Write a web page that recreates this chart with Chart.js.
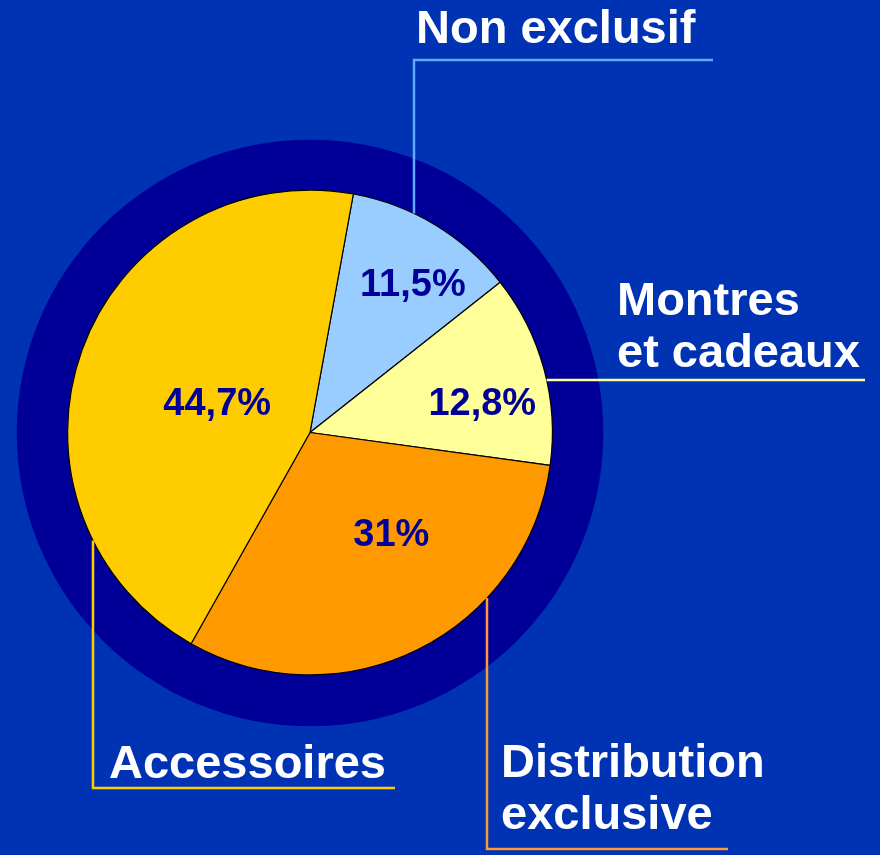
<!DOCTYPE html>
<html lang="fr">
<head>
<meta charset="UTF-8">
<title>Répartition</title>
<script src="https://cdn.jsdelivr.net/npm/chart.js"></script>
<style>
  html, body { margin: 0; padding: 0; background: #0033B3; }
  canvas { display: block; }
</style>
</head>
<body>
<canvas id="pie" width="880" height="855"></canvas>
<script>
// données
const categories = ['Non exclusif', 'Montres et cadeaux', 'Distribution exclusive', 'Accessoires'];
const values = [11.5, 12.8, 31, 44.7];
const valueLabels = ['11,5%', '12,8%', '31%', '44,7%'];
const sliceColors = ['#99CCFF', '#FFFF99', '#FF9900', '#FFCC00'];
const lineColors = ['#5FA8FF', '#FFFF99', '#FF9933', '#FFCC00'];

const FONT = '"Liberation Sans", Arial, sans-serif';

// position des étiquettes dans les parts (fraction du rayon, décalage d'angle en degrés)
const inner = [
  { r: 0.74, da: 4 },
  { r: 0.72, da: 6 },
  { r: 0.54, da: -12 },
  { r: 0.40, da: -3 }
];

// étiquettes extérieures avec lignes de rappel
const outer = [
  { lines: ['Non exclusif'], x: 416, y: [43], lx: 414, ly: 60, ex: 713, dir: 'up' },
  { lines: ['Montres', 'et cadeaux'], x: 617, y: [315, 367], ly: 380, ex: 865, dir: 'right' },
  { lines: ['Distribution', 'exclusive'], x: 501, y: [777, 829], lx: 487, ly: 849, ex: 728, dir: 'down' },
  { lines: ['Accessoires'], x: 109, y: [778], lx: 93, ly: 788, ex: 395, dir: 'down' }
];

const ringPlugin = {
  id: 'ring',
  beforeDatasetsDraw(chart) {
    const arc = chart.getDatasetMeta(0).data[0];
    const ctx = chart.ctx;
    ctx.save();
    ctx.beginPath();
    ctx.arc(arc.x, arc.y + 0.5, arc.outerRadius * 1.21, 0, Math.PI * 2);
    ctx.fillStyle = '#000099';
    ctx.fill();
    ctx.restore();
  }
};

const labelPlugin = {
  id: 'labels',
  afterDatasetsDraw(chart) {
    const ctx = chart.ctx;
    const arcs = chart.getDatasetMeta(0).data;
    const cx = arcs[0].x, cy = arcs[0].y, R = arcs[0].outerRadius;
    ctx.save();
    // valeurs dans les parts
    ctx.font = 'bold 38px ' + FONT;
    ctx.fillStyle = '#000099';
    ctx.textAlign = 'center';
    ctx.textBaseline = 'middle';
    arcs.forEach((a, i) => {
      const mid = (a.startAngle + a.endAngle) / 2 + inner[i].da * Math.PI / 180;
      const r = R * inner[i].r;
      ctx.fillText(valueLabels[i], cx + Math.cos(mid) * r, cy + Math.sin(mid) * r);
    });
    // lignes de rappel
    ctx.lineWidth = 2.5;
    outer.forEach((o, i) => {
      ctx.strokeStyle = lineColors[i];
      ctx.beginPath();
      if (o.dir === 'right') {
        const x0 = cx + Math.sqrt(R * R - (o.ly - cy) * (o.ly - cy));
        ctx.moveTo(x0, o.ly);
        ctx.lineTo(o.ex, o.ly);
      } else {
        const dy = Math.sqrt(R * R - (o.lx - cx) * (o.lx - cx));
        const y0 = o.dir === 'up' ? cy - dy : cy + dy;
        ctx.moveTo(o.lx, y0);
        ctx.lineTo(o.lx, o.ly);
        ctx.lineTo(o.ex, o.ly);
      }
      ctx.stroke();
    });
    // textes extérieurs
    ctx.font = 'bold 47px ' + FONT;
    ctx.fillStyle = '#FFFFFF';
    ctx.textAlign = 'left';
    ctx.textBaseline = 'alphabetic';
    outer.forEach(o => {
      o.lines.forEach((t, k) => ctx.fillText(t, o.x, o.y[k]));
    });
    ctx.restore();
  }
};

new Chart(document.getElementById('pie').getContext('2d'), {
  type: 'pie',
  data: {
    labels: categories,
    datasets: [{
      data: values,
      backgroundColor: sliceColors,
      borderColor: '#000000',
      borderWidth: 1.2
    }]
  },
  options: {
    responsive: false,
    animation: false,
    rotation: 10.3,
    layout: { padding: { left: 67, right: 327, top: 189, bottom: 179 } },
    plugins: {
      legend: { display: false },
      tooltip: { enabled: false }
    }
  },
  plugins: [ringPlugin, labelPlugin]
});
</script>
</body>
</html>
